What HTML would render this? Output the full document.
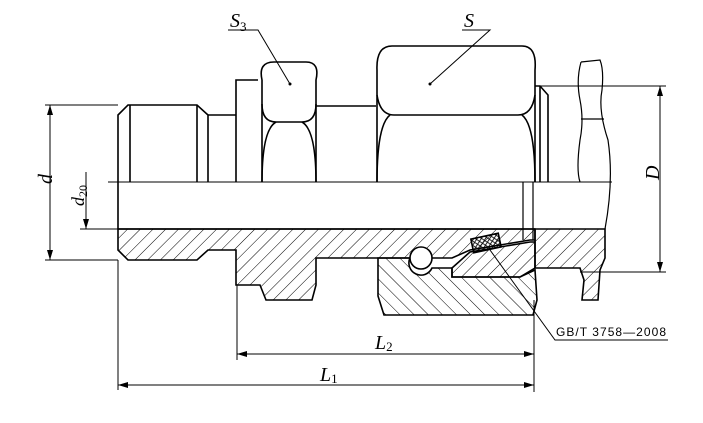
<!DOCTYPE html>
<html><head><meta charset="utf-8"><style>
html,body{margin:0;padding:0;background:#fff}
svg{display:block}
text{font-family:"Liberation Serif",serif;font-style:italic;fill:#000}
</style></head><body>
<svg width="703" height="423" viewBox="0 0 703 423" xmlns="http://www.w3.org/2000/svg">
<defs>
<pattern id="h1" width="9" height="9" patternUnits="userSpaceOnUse" patternTransform="rotate(45)"><line x1="0" y1="0" x2="0" y2="9" stroke="#000" stroke-width="1"/></pattern>
<pattern id="h2" width="10" height="10" patternUnits="userSpaceOnUse" patternTransform="rotate(-45)"><line x1="0" y1="0" x2="0" y2="10" stroke="#000" stroke-width="1"/></pattern>
<pattern id="x" width="5" height="5" patternUnits="userSpaceOnUse"><path d="M0 0L5 5M5 0L0 5" stroke="#000" stroke-width="0.8"/></pattern>
</defs>
<g fill="none" stroke="#000" stroke-width="1.6">
<path fill="url(#h1)" d="M118 229 L118 250 L128 260 L197 260 L208 250 L236 250 L236 285 L260 285 L266 300 L312 300 L316 285 L316 258 L410 258 A12 12 0 0 1 432 258 L452 258 L470 250 L530 240 L535 240 L535 229 Z"/>
<path fill="url(#h1)" d="M535 229 L605 229 L605 258 L600 270 L598 300 L582 300 L584 280 L580 268 L535 268 Z"/>
<path fill="url(#h1)" d="M452 268 L470 252 L530 242 L535 242 L535 268 L520 277 L452 277 Z"/>
<path fill="url(#h2)" d="M378 258 L410 258 A12 12 0 0 0 432 268 L452 268 L452 277 L520 277 L535 270 L537 300 L533 315 L384 315 L378 296 Z"/>
<circle cx="421" cy="258" r="11" fill="#fff"/>
<rect x="472" y="236" width="28" height="14" fill="url(#x)" transform="rotate(-12 486 243)"/>
<path d="M118 229 L118 115 L128 105 L197 105 L208 115 L208 182"/>
<line x1="130" y1="105" x2="130" y2="182"/><line x1="197" y1="105" x2="197" y2="182"/>
<path d="M208 115 L236 115"/>
<path d="M236 182 L236 80 L258 80"/>
<path d="M262 182 L262 80 Q258 62 274 62 L306 62 Q320 62 316 80 L316 182"/>
<path d="M262 104 Q262 122 276 122 L302 122 Q316 122 316 104"/>
<path d="M262 182 Q262 130 276 122 M316 182 Q316 130 302 122"/>
<line x1="316" y1="106" x2="376" y2="106"/>
<path d="M377 182 L377 70 Q376 46 392 46 L522 46 Q537 46 535 70 L535 182"/>
<path d="M377 95 Q380 115 394 115 L518 115 Q532 115 535 95"/>
<path d="M377 182 Q377 125 390 115 M535 182 Q535 125 522 115"/>
<path d="M535 86 L540 86 L548 95 L548 182 M540 86 L540 182"/>
<path d="M581 62 L600 60 Q604 70 602 90 Q598 110 608 140 Q614 180 605 229" stroke-width="1.2"/>
<path d="M581 62 Q576 80 580 100 Q584 120 580 140 Q576 170 580 182" stroke-width="1.2"/>
<line x1="581" y1="119" x2="604" y2="119" stroke-width="1.2"/>
<line x1="118" y1="229" x2="535" y2="229"/>
<path d="M523 182 L523 240 M533 182 L533 240" stroke-width="1.2"/>
</g>
<g stroke="#000" stroke-width="1" fill="none">
<line x1="108" y1="182" x2="612" y2="182"/>
<line x1="45" y1="105" x2="118" y2="105"/><line x1="45" y1="260" x2="118" y2="260"/>
<line x1="50" y1="105" x2="50" y2="260"/>
<line x1="80" y1="229" x2="118" y2="229"/>
<line x1="86" y1="172" x2="86" y2="229"/>
<line x1="540" y1="86" x2="666" y2="86"/><line x1="580" y1="272" x2="666" y2="272"/>
<line x1="660" y1="86" x2="660" y2="272"/>
<line x1="118" y1="260" x2="118" y2="390"/>
<line x1="237" y1="285" x2="237" y2="360"/>
<line x1="534" y1="300" x2="534" y2="392"/>
<line x1="237" y1="354" x2="534" y2="354"/>
<line x1="118" y1="385" x2="534" y2="385"/>
<path d="M228 30 L258 30 L290 84"/>
<path d="M462 30 L490 30 L430 84"/>
<path d="M490 250 L555 340 L668 340"/>
</g>
<g fill="#000">
<path d="M50 105 l-3 10 h6z M50 260 l-3 -10 h6z M86 229 l-3 -10 h6z M660 86 l-3 10 h6z M660 272 l-3 -10 h6z M237 354 l10 -3 v6z M534 354 l-10 -3 v6z M118 385 l10 -3 v6z M534 385 l-10 -3 v6z"/>
<circle cx="290" cy="84" r="1.5"/><circle cx="430" cy="84" r="1.5"/>
</g>
<text x="230" y="27" font-size="20">S<tspan font-size="13" dy="4" font-style="normal">3</tspan></text>
<text x="464" y="27" font-size="20">S</text>
<text x="46" y="190" font-size="20" transform="rotate(-90 46 184)">d</text>
<text x="78" y="212" font-size="18" transform="rotate(-90 78 206)">d<tspan font-size="12" dy="3" font-style="normal">20</tspan></text>
<text x="655" y="184" font-size="20" transform="rotate(-90 655 180)">D</text>
<text x="375" y="349" font-size="20">L<tspan font-size="13" dy="2" font-style="normal">2</tspan></text>
<text x="320" y="381" font-size="20">L<tspan font-size="13" dy="2" font-style="normal">1</tspan></text>
<text x="556" y="336" font-size="12" style="font-family:'Liberation Sans',sans-serif;font-style:normal" textLength="110">GB/T 3758—2008</text>
</svg>
</body></html>
